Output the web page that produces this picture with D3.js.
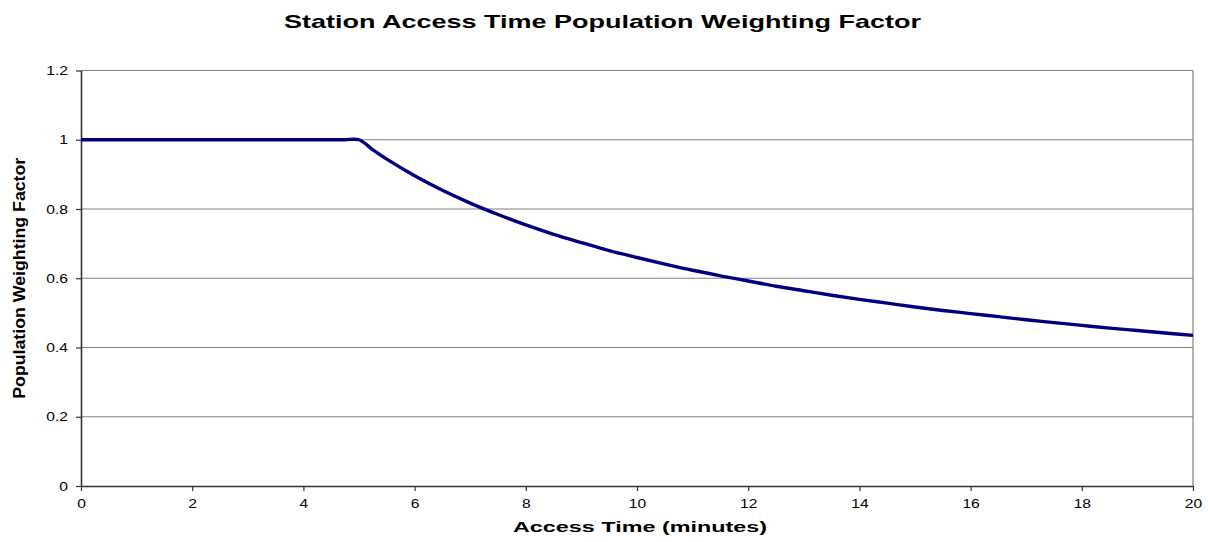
<!DOCTYPE html>
<html>
<head>
<meta charset="utf-8">
<script src="https://cdn.jsdelivr.net/npm/d3@7"></script>
<style>
  html, body { margin: 0; padding: 0; background: #fff; }
  svg { display: block; font-family: Arial, "Liberation Sans", sans-serif; }
</style>
</head>
<body>
<svg id="chart" width="1208" height="542"></svg>
<script>
const chartTitle = "Station Access Time Population Weighting Factor";
const xTitle = "Access Time (minutes)";
const yTitle = "Population Weighting Factor";

const accessTime = [0, 0.5, 1, 1.5, 2, 2.5, 3, 3.5, 4, 4.5, 4.75, 5, 5.25, 5.5, 6, 6.5, 7, 7.5, 8, 8.5, 9, 9.5,
  10, 10.5, 11, 11.5, 12, 12.5, 13, 13.5, 14, 14.5, 15, 15.5, 16, 16.5, 17, 17.5, 18, 18.5, 19, 19.5, 20];
const weightingFactor = [1, 1, 1, 1, 1, 1, 1, 1, 1, 1, 1, 1, 0.971, 0.944, 0.896, 0.854, 0.817, 0.784, 0.754, 0.727, 0.703, 0.680,
  0.660, 0.641, 0.623, 0.607, 0.592, 0.577, 0.564, 0.551, 0.539, 0.528, 0.517, 0.507, 0.498, 0.489, 0.480, 0.472, 0.464, 0.456, 0.449, 0.442, 0.435];

const xTicks = [0, 2, 4, 6, 8, 10, 12, 14, 16, 18, 20];
const yTicks = [0, 0.2, 0.4, 0.6, 0.8, 1, 1.2];

const svg = d3.select("#chart");
const plotLeft = 81, plotRight = 1193, plotTop = 70.5, plotBottom = 486;

const x = d3.scaleLinear().domain([0, 20]).range([plotLeft, plotRight]);
const y = d3.scaleLinear().domain([0, 1.2]).range([plotBottom, plotTop]);

// gridlines
svg.append("g").selectAll("line").data(yTicks.filter(d => d > 0)).join("line")
  .attr("x1", plotLeft).attr("x2", plotRight)
  .attr("y1", d => y(d)).attr("y2", d => y(d))
  .attr("stroke", "#808080").attr("stroke-width", 1.2);

// right border
svg.append("line").attr("x1", plotRight).attr("x2", plotRight).attr("y1", plotTop).attr("y2", plotBottom)
  .attr("stroke", "#808080").attr("stroke-width", 1.2);

// axes
const xAxis = d3.axisBottom(x).tickValues(xTicks).tickSize(5).tickSizeOuter(0).tickPadding(8).tickFormat(d3.format("d"));
const yAxis = d3.axisLeft(y).tickValues(yTicks).tickSize(5).tickSizeOuter(0).tickPadding(8).tickFormat(d => String(d));

const gx = svg.append("g").attr("transform", `translate(0,${plotBottom})`).call(xAxis);
const gy = svg.append("g").attr("transform", `translate(${plotLeft},0)`).call(yAxis);
[gx, gy].forEach(g => {
  g.select(".domain").attr("stroke", "#333").attr("stroke-width", 1.6);
  g.selectAll(".tick line").attr("stroke", "#333").attr("stroke-width", 1.2);
  g.selectAll(".tick text").attr("fill", "#000").style("font-size", "13px")
    .style("font-family", "Arial, 'Liberation Sans', sans-serif");
});
gx.selectAll(".tick text").attr("dy", "0.71em");
[gx, gy].forEach(g => g.selectAll(".tick text").each(function () {
  const w = this.getComputedTextLength();
  d3.select(this).attr("textLength", w * 1.2).attr("lengthAdjust", "spacingAndGlyphs");
}));

// line
const line = d3.line().x((d, i) => x(accessTime[i])).y(d => y(d)).curve(d3.curveCatmullRom.alpha(0.5));
svg.append("path").datum(weightingFactor)
  .attr("d", line).attr("fill", "none")
  .attr("stroke", "#000080").attr("stroke-width", 3.4).attr("stroke-linejoin", "round");

// titles
svg.append("text").attr("x", 602.5).attr("y", 28).attr("text-anchor", "middle")
  .style("font-size", "19px").style("font-weight", "bold")
  .attr("textLength", 637).attr("lengthAdjust", "spacingAndGlyphs")
  .text(chartTitle);

svg.append("text").attr("x", 640).attr("y", 531.5).attr("text-anchor", "middle")
  .style("font-size", "15px").style("font-weight", "bold")
  .attr("textLength", 254).attr("lengthAdjust", "spacingAndGlyphs")
  .text(xTitle);

svg.append("text").attr("transform", `translate(24.5,${(plotTop + plotBottom) / 2}) rotate(-90)`)
  .attr("text-anchor", "middle")
  .style("font-size", "16px").style("font-weight", "bold")
  .attr("textLength", 241).attr("lengthAdjust", "spacingAndGlyphs")
  .text(yTitle);
</script>
</body>
</html>
